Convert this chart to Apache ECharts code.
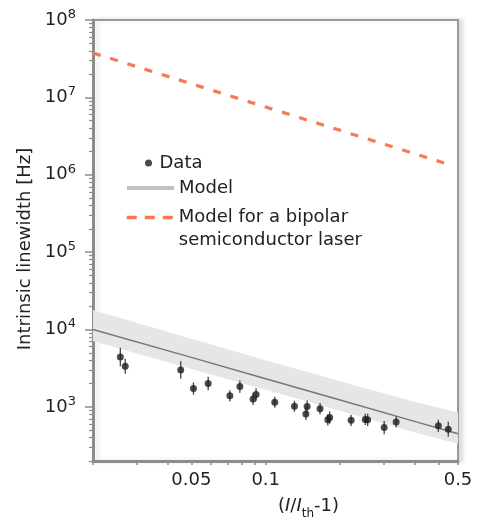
<!DOCTYPE html>
<html><head><meta charset="utf-8">
<script src="https://cdn.jsdelivr.net/npm/echarts@6/dist/echarts.min.js"></script>
<style>html,body{margin:0;padding:0;background:#fff}#c{width:478px;height:517px}</style>
</head><body><div id="c"></div>
<script>
// ---- data ----
const dataX = [0.0258, 0.0270, 0.0453, 0.0510, 0.0585, 0.0716, 0.0786, 0.0889, 0.0914, 0.1088, 0.1307, 0.1471, 0.1454, 0.1659, 0.1814, 0.1784, 0.2216, 0.2528, 0.2586, 0.3016, 0.3372, 0.4996, 0.548];
const dataY = [4420, 3350, 3000, 1730, 2010, 1390, 1830, 1270, 1450, 1150, 1020, 1010, 810, 950, 730, 680, 670, 690, 680, 540, 640, 570, 515];
const dataErr = [1.32, 1.25, 1.3, 1.2, 1.22, 1.18, 1.2, 1.2, 1.2, 1.18, 1.18, 1.2, 1.2, 1.18, 1.2, 1.18, 1.18, 1.18, 1.2, 1.22, 1.18, 1.2, 1.25];
const modelX = [0.02, 0.05, 0.1, 0.2, 0.4, 0.6];
const modelY = [10000, 4370, 2310, 1225, 650, 449];
const bandUpper = [17900, 7600, 4000, 2150, 1170, 845];
const bandLower = [7100, 3100, 1670, 890, 470, 334];
const bipolarX = [0.02, 0.05, 0.1, 0.2, 0.55];
const bipolarY = [3.75e7, 1.5e7, 7.5e6, 3.75e6, 1.36e6];
const yLabelValues = [1e3, 1e4, 1e5, 1e6, 1e7, 1e8];
const xTickValues = [0.02, 0.03, 0.04, 0.05, 0.06, 0.07, 0.08, 0.09, 0.1, 0.2, 0.3, 0.4, 0.5, 0.6];
const xLabelValues = [0.05, 0.1, 0.6];
const xLabelTexts = ['0.05', '0.1', '0.5'];
const yMinorTicks = [];
for (let e = 2; e <= 7; e++) for (let m = 2; m <= 9; m++) { const v = m * Math.pow(10, e); if (v >= 200) yMinorTicks.push(v); }

const FONT = 'DejaVu Sans';
const TXT = '#222';
const AX = '#8c8c8c';

const chart = echarts.init(document.getElementById('c'), null, {renderer: 'canvas'});
chart.setOption({
  backgroundColor: '#fff',
  animation: false,
  textStyle: {fontFamily: FONT},
  grid: {left: 93, right: 20, top: 20, bottom: 56, show: true, borderColor: '#9a9a9a', borderWidth: 2,
         containLabel: false, outerBoundsMode: 'none',
         shadowColor: 'rgba(0,0,0,0.12)', shadowBlur: 4, shadowOffsetX: 4, shadowOffsetY: 0, backgroundColor: '#fff'},
  legend: [
    {data: ['Data'], left: 145, top: 154, padding: 0, itemWidth: 12, itemHeight: 7, selectedMode: false,
     textStyle: {fontFamily: FONT, fontSize: 18, color: TXT}},
    {data: [{name: 'Model', itemStyle: {opacity: 0}, lineStyle: {color: '#c2c2c2', width: 4, type: 'solid'}}],
     left: 125, top: 179, padding: 0, itemWidth: 47, itemHeight: 14, selectedMode: false,
     textStyle: {fontFamily: FONT, fontSize: 18, color: TXT}},
    {data: [{name: 'Model for a bipolar semiconductor laser', itemStyle: {opacity: 0}, lineStyle: {color: '#f47a55', width: 3.5, type: [10, 8]}}],
     left: 125, top: 183, padding: 0, itemWidth: 47, itemHeight: 14, selectedMode: false,
     formatter: () => ' \nModel for a bipolar\nsemiconductor laser',
     textStyle: {fontFamily: FONT, fontSize: 18, color: TXT, lineHeight: 23}}
  ],
  xAxis: [{
    type: 'log', logBase: 10, min: 0.02, max: 0.6, position: 'bottom',
    axisLine: {show: true, onZero: false, lineStyle: {color: AX, width: 3}},
    axisTick: {show: true, inside: false, length: 4, customValues: xTickValues, lineStyle: {color: AX, width: 1.5}},
    minorTick: {show: false},
    axisLabel: {customValues: xLabelValues, margin: 10, fontFamily: FONT, fontSize: 18, color: TXT,
      formatter: (v) => { let bi = 0; xLabelValues.forEach((u, i) => { if (Math.abs(Math.log(u / v)) < Math.abs(Math.log(xLabelValues[bi] / v))) bi = i; }); return xLabelTexts[bi]; }},
    splitLine: {show: false},
    name: '{p|(}{i|I}{p|/}{i|I}{s|th}{p|-1)}', nameLocation: 'middle', nameGap: 36,
    nameTextStyle: {padding: [0, 0, 0, 66], rich: {
      p: {fontFamily: FONT, fontSize: 18, color: TXT, lineHeight: 20, verticalAlign: 'top'},
      i: {fontFamily: FONT, fontSize: 18, color: TXT, fontStyle: 'italic', lineHeight: 20, verticalAlign: 'top'},
      s: {fontFamily: FONT, fontSize: 12, color: TXT, lineHeight: 12, padding: [11, 0, 0, 0], verticalAlign: 'top'}
    }}
  }],
  yAxis: [{
    type: 'log', logBase: 10, min: 200, max: 1e8, position: 'left',
    axisLine: {show: true, lineStyle: {color: AX, width: 3}},
    axisTick: {show: true, inside: false, length: 8, customValues: yLabelValues, lineStyle: {color: AX, width: 1.5}},
    axisLabel: {customValues: yLabelValues, margin: 17,
      formatter: (v) => '{b|10}{s|' + Math.round(Math.log10(v)) + '}',
      rich: {
        b: {fontFamily: FONT, fontSize: 18, color: TXT, lineHeight: 18, verticalAlign: 'bottom', padding: [6, 0, 0, 0]},
        s: {fontFamily: FONT, fontSize: 13, color: TXT, lineHeight: 13, verticalAlign: 'bottom', padding: [0, 0, 8, 0]}
      }},
    splitLine: {show: false},
    name: 'Intrinsic linewidth [Hz]', nameLocation: 'middle', nameGap: 58,
    nameTextStyle: {fontFamily: FONT, fontSize: 18, color: TXT, padding: [0, 17, 0, 0]}
  }, {
    type: 'log', logBase: 10, min: 200, max: 1e8, position: 'left',
    axisLine: {show: false},
    axisTick: {show: true, inside: false, length: 4, customValues: yMinorTicks, lineStyle: {color: AX, width: 1.2}},
    axisLabel: {show: false},
    splitLine: {show: false}
  }],
  series: [
    {
      type: 'custom', name: 'band', silent: true, z: 1, clip: true,
      data: [[modelX[0], modelY[0]]],
      encode: {x: 0, y: 1},
      renderItem: (params, api) => {
        const pts = [];
        for (let i = 0; i < modelX.length; i++) pts.push(api.coord([modelX[i], bandUpper[i]]));
        for (let i = modelX.length - 1; i >= 0; i--) pts.push(api.coord([modelX[i], bandLower[i]]));
        return {type: 'polygon', shape: {points: pts}, style: {fill: '#e6e6e6', stroke: 'none'}};
      }
    },
    {
      type: 'line', name: 'Model', z: 2, symbol: 'none', silent: true,
      data: modelX.map((x, i) => [x, modelY[i]]),
      lineStyle: {color: '#777', width: 1.5}, itemStyle: {color: '#777'}
    },
    {
      type: 'line', name: 'Model for a bipolar semiconductor laser', z: 2, symbol: 'none', silent: true,
      data: bipolarX.map((x, i) => [x, bipolarY[i]]),
      lineStyle: {color: '#f47a55', width: 3.2, type: [8, 10]}, itemStyle: {color: '#f47a55'}
    },
    {
      type: 'custom', name: 'err', silent: true, z: 3,
      data: dataX.map((x, i) => [x, dataY[i] / dataErr[i], dataY[i] * dataErr[i]]),
      encode: {x: 0, y: [1, 2]},
      renderItem: (params, api) => {
        const a = api.coord([api.value(0), api.value(1)]);
        const b = api.coord([api.value(0), api.value(2)]);
        return {type: 'line', shape: {x1: a[0], y1: a[1], x2: b[0], y2: b[1]}, style: {stroke: '#444', lineWidth: 1.3}};
      }
    },
    {
      type: 'scatter', name: 'Data', z: 4, symbol: 'circle', symbolSize: 7,
      data: dataX.map((x, i) => [x, dataY[i]]),
      itemStyle: {color: '#1e1e1e'}
    }
  ]
});
</script></body></html>
